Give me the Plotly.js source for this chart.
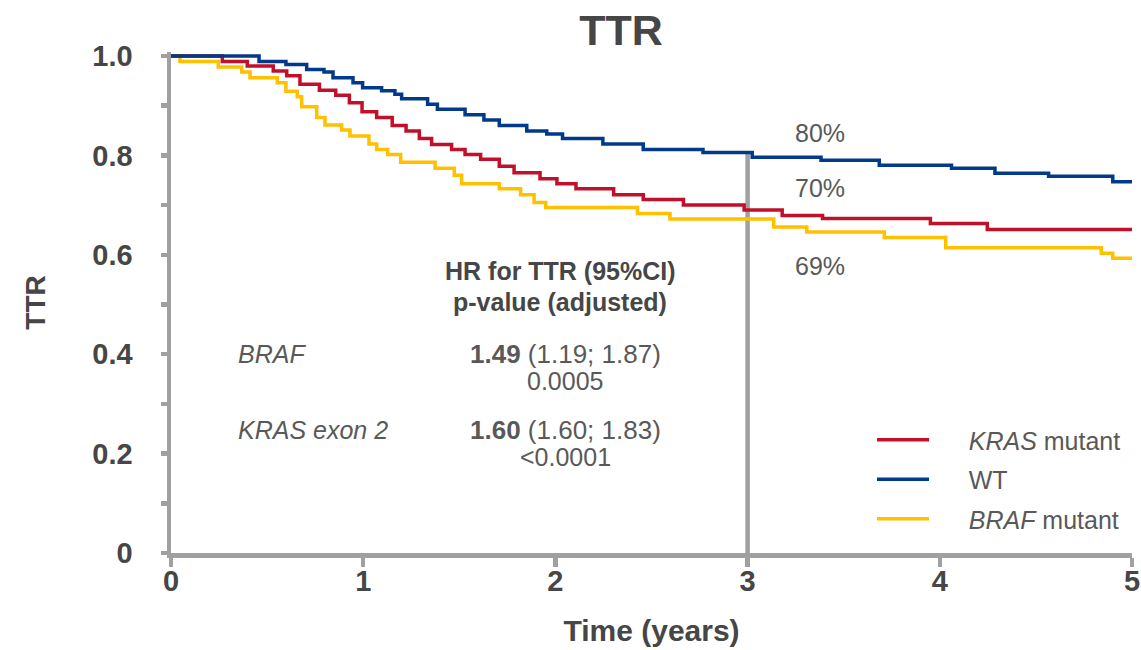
<!DOCTYPE html>
<html>
<head>
<meta charset="utf-8">
<script src="https://cdn.plot.ly/plotly-3.0.1.min.js"></script>
<style>
  html, body { margin: 0; padding: 0; background: #ffffff; }
  #chart { width: 1141px; height: 650px; }
</style>
</head>
<body>
<div id="chart"></div>
<script>
// Kaplan-Meier step curves: time to recurrence by mutation status
const wtTime = [0, 0.458, 0.598, 0.706, 0.796, 0.843, 0.947, 0.997, 1.096, 1.165, 1.20, 1.335, 1.386, 1.53, 1.628, 1.708, 1.851, 1.955, 2.037, 2.247, 2.457, 2.768, 3.024, 3.382, 3.685, 4.061, 4.287, 4.566, 4.900, 5.0];
const wtSurv = [1.0, 0.989, 0.983, 0.973, 0.968, 0.956, 0.946, 0.936, 0.930, 0.923, 0.914, 0.903, 0.893, 0.882, 0.871, 0.860, 0.849, 0.843, 0.834, 0.823, 0.812, 0.806, 0.796, 0.790, 0.780, 0.774, 0.764, 0.758, 0.747, 0.747];

const krasTime = [0, 0.267, 0.397, 0.532, 0.602, 0.671, 0.772, 0.857, 0.928, 0.994, 1.070, 1.151, 1.223, 1.292, 1.356, 1.460, 1.530, 1.611, 1.708, 1.785, 1.920, 2.008, 2.107, 2.303, 2.457, 2.666, 2.982, 3.18, 3.39, 3.951, 4.247, 5.0];
const krasSurv = [1.0, 0.989, 0.980, 0.970, 0.960, 0.943, 0.931, 0.921, 0.906, 0.888, 0.876, 0.860, 0.849, 0.834, 0.822, 0.812, 0.802, 0.792, 0.778, 0.765, 0.753, 0.743, 0.733, 0.721, 0.711, 0.700, 0.690, 0.679, 0.673, 0.663, 0.651, 0.651];

const brafTime = [0, 0.047, 0.246, 0.368, 0.411, 0.553, 0.598, 0.657, 0.680, 0.758, 0.801, 0.888, 0.931, 1.030, 1.070, 1.127, 1.195, 1.374, 1.474, 1.512, 1.708, 1.819, 1.889, 1.950, 2.427, 2.596, 3.136, 3.308, 3.711, 4.031, 4.84, 4.90, 5.0];
const brafSurv = [1.0, 0.989, 0.978, 0.968, 0.956, 0.946, 0.929, 0.918, 0.898, 0.876, 0.861, 0.851, 0.839, 0.823, 0.812, 0.802, 0.786, 0.774, 0.760, 0.743, 0.733, 0.721, 0.705, 0.695, 0.683, 0.672, 0.656, 0.646, 0.635, 0.614, 0.603, 0.593, 0.593];

const seriesNames = ["<i>KRAS</i> mutant", "WT", "<i>BRAF</i> mutant"];
const seriesColors = ["#c0102a", "#003a88", "#ffc000"];

// Axis ticks
const xTicks = [0, 1, 2, 3, 4, 5];
const yTickVals = [0, 0.2, 0.4, 0.6, 0.8, 1.0];
const yTickText = ["0", "0.2", "0.4", "0.6", "0.8", "1.0"];

// Three-year landmark and rates shown beside the curves
const landmarkYear = 3;
const rateLabels = ["80%", "70%", "69%"];
const rateLabelY = [0.845, 0.734, 0.577];

// Hazard ratio table
const hrHeader = ["HR for TTR (95%CI)", "p-value (adjusted)"];
const hrGroups = ["BRAF", "KRAS exon 2"];
const hrEstimates = ["1.49", "1.60"];
const hrIntervals = ["(1.19; 1.87)", "(1.60; 1.83)"];
const hrPValues = ["0.0005", "<0.0001"];

const FONT = "Liberation Sans, Arial, Helvetica, sans-serif";
const DARK = "#464646";
const MID = "#595959";
const AXIS = "#a0a0a0";
const NBSP = "&nbsp;&nbsp;&nbsp;&nbsp;&nbsp;";

function stepValueAt(times, values, t) {
  let v = values[0];
  for (let i = 0; i < times.length; i++) {
    if (times[i] <= t) v = values[i];
  }
  return v;
}

const mkTrace = (x, y, idx, rank) => ({
  x: x, y: y,
  type: "scatter", mode: "lines",
  line: { shape: "hv", color: seriesColors[idx], width: 3.5 },
  name: NBSP + seriesNames[idx],
  legendgroup: "g" + idx,
  legendrank: rank,
  hoverinfo: "skip"
});

const traces = [
  mkTrace(brafTime, brafSurv, 2, 3),
  mkTrace(krasTime, krasSurv, 0, 1),
  mkTrace(wtTime, wtSurv, 1, 2)
];

const annotations = [];
rateLabels.forEach((txt, i) => {
  annotations.push({
    x: 3.236, y: rateLabelY[i], xref: "x", yref: "y",
    text: txt, showarrow: false, xanchor: "left", yanchor: "middle",
    font: { family: FONT, size: 25, color: MID }
  });
});
hrHeader.forEach((txt, i) => {
  annotations.push({
    x: 2.025, y: [0.567, 0.505][i], xref: "x", yref: "y",
    text: "<b>" + txt + "</b>", showarrow: false, xanchor: "center", yanchor: "middle",
    font: { family: FONT, size: 25, color: DARK }
  });
});
const rowY = [0.401, 0.248];
hrGroups.forEach((g, i) => {
  annotations.push({
    x: 0.338, y: rowY[i], xref: "x", yref: "y",
    text: "<i>" + g + "</i>", showarrow: false, xanchor: "left", yanchor: "middle",
    font: { family: FONT, size: 25, color: MID }
  });
  annotations.push({
    x: 2.05, y: rowY[i], xref: "x", yref: "y",
    text: "<b>" + hrEstimates[i] + "</b> " + hrIntervals[i], showarrow: false,
    xanchor: "center", yanchor: "middle",
    font: { family: FONT, size: 26, color: MID }
  });
  annotations.push({
    x: 2.05, y: rowY[i] - 0.055, xref: "x", yref: "y",
    text: hrPValues[i], showarrow: false, xanchor: "center", yanchor: "middle",
    font: { family: FONT, size: 25, color: MID }
  });
});

const layout = {
  width: 1141, height: 650,
  margin: { l: 171, r: 9, t: 52, b: 97 },
  paper_bgcolor: "#ffffff", plot_bgcolor: "#ffffff",
  title: {
    text: "<b>TTR</b>", x: 621 / 1141, xref: "container", xanchor: "center",
    y: 1 - 30 / 650, yref: "container", yanchor: "middle",
    font: { family: FONT, size: 43, color: DARK }
  },
  xaxis: {
    range: [0, 5], tickvals: xTicks, ticktext: xTicks.map(String),
    showgrid: false, zeroline: false,
    showline: true, linecolor: AXIS, linewidth: 4.5,
    ticks: "outside", ticklen: 9, tickwidth: 4.5, tickcolor: AXIS,
    ticklabelstandoff: -10,
    tickfont: { family: FONT, size: 29, color: DARK, weight: "bold" },
    title: { text: "<b>Time (years)</b>", standoff: 25, font: { family: FONT, size: 30, color: DARK } }
  },
  yaxis: {
    range: [0, 1.008], tickvals: yTickVals, ticktext: yTickText,
    showgrid: false, zeroline: false,
    showline: true, linecolor: AXIS, linewidth: 4.5,
    ticks: "outside", ticklen: 6, tickwidth: 4.5, tickcolor: AXIS,
    ticklabelstandoff: 22,
    minor: { dtick: 0.1, ticks: "outside", ticklen: 6, tickwidth: 4.5, tickcolor: AXIS },
    tickfont: { family: FONT, size: 29, color: DARK, weight: "bold" },
    title: { text: "<b>TTR</b>", standoff: 40, font: { family: FONT, size: 28, color: DARK } }
  },
  shapes: [{
    type: "line", xref: "x", yref: "y", layer: "below",
    x0: landmarkYear, x1: landmarkYear, y0: 0,
    y1: stepValueAt(wtTime, wtSurv, landmarkYear),
    line: { color: AXIS, width: 4.5 }
  }],
  annotations: annotations,
  showlegend: true,
  legend: {
    x: (872 - 171) / 961, xanchor: "left",
    y: (553 - 417) / 501, yanchor: "top",
    bgcolor: "rgba(0,0,0,0)", borderwidth: 0,
    itemwidth: 52, tracegroupgap: 4,
    font: { family: FONT, size: 25, color: MID }
  }
};

Plotly.newPlot("chart", traces, layout, { staticPlot: true, displayModeBar: false });
</script>
</body>
</html>
